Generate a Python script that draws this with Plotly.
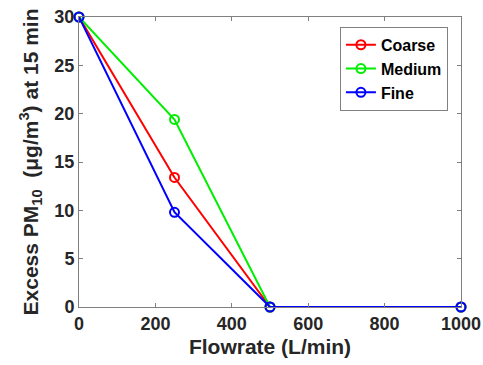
import plotly.graph_objects as go

flowrate = [0, 250, 500, 1000]
coarse = [30, 13.4, 0, 0]
medium = [30, 19.4, 0, 0]
fine = [30, 9.8, 0, 0]
xticks = [0, 200, 400, 600, 800, 1000]
yticks = [0, 5, 10, 15, 20, 25, 30]

series = [("Coarse", coarse, "#ff0000"), ("Medium", medium, "#00ee00"), ("Fine", fine, "#0000ff")]

fig = go.Figure()
for name, vals, col in series:
    fig.add_trace(go.Scatter(
        x=flowrate, y=vals, name="<b>" + name + "</b>", mode="lines+markers",
        line=dict(color=col, width=2),
        marker=dict(symbol="circle-open", size=9, color=col, line=dict(width=2, color=col)),
        cliponaxis=False,
    ))

font = "Liberation Sans, Arial, sans-serif"
axis_common = dict(
    showline=True, linecolor="#808080", linewidth=1, mirror="ticks",
    ticks="inside", ticklen=4, tickcolor="#808080",
    showgrid=False, zeroline=False, automargin=False,
    tickfont=dict(family=font, size=18, color="#262626"),
)
fig.update_layout(
    width=483, height=365,
    margin=dict(l=79, r=22, t=17, b=58),
    paper_bgcolor="white", plot_bgcolor="white",
    font=dict(family=font, color="#262626"),
    xaxis=dict(range=[0, 1000], tickvals=xticks, ticktext=["<b>%d</b>" % v for v in xticks],
               title=dict(text="<b>Flowrate (L/min)</b>", font=dict(size=21, family=font), standoff=6),
               **axis_common),
    yaxis=dict(range=[0, 30], tickvals=yticks, ticktext=["<b>%d</b>" % v for v in yticks],
               title=dict(text="<b>Excess PM<sub>10</sub>  (μg/m<sup>3</sup>) at 15 min</b>", font=dict(size=21, family=font), standoff=10),
               **axis_common),
    legend=dict(x=0.683, y=0.966, xanchor="left", yanchor="top",
                bordercolor="#808080", borderwidth=1, bgcolor="white",
                font=dict(family=font, size=16, color="#000000"),
                itemwidth=30, tracegroupgap=0),
    showlegend=True,
)
fig.write_html("out.html")
